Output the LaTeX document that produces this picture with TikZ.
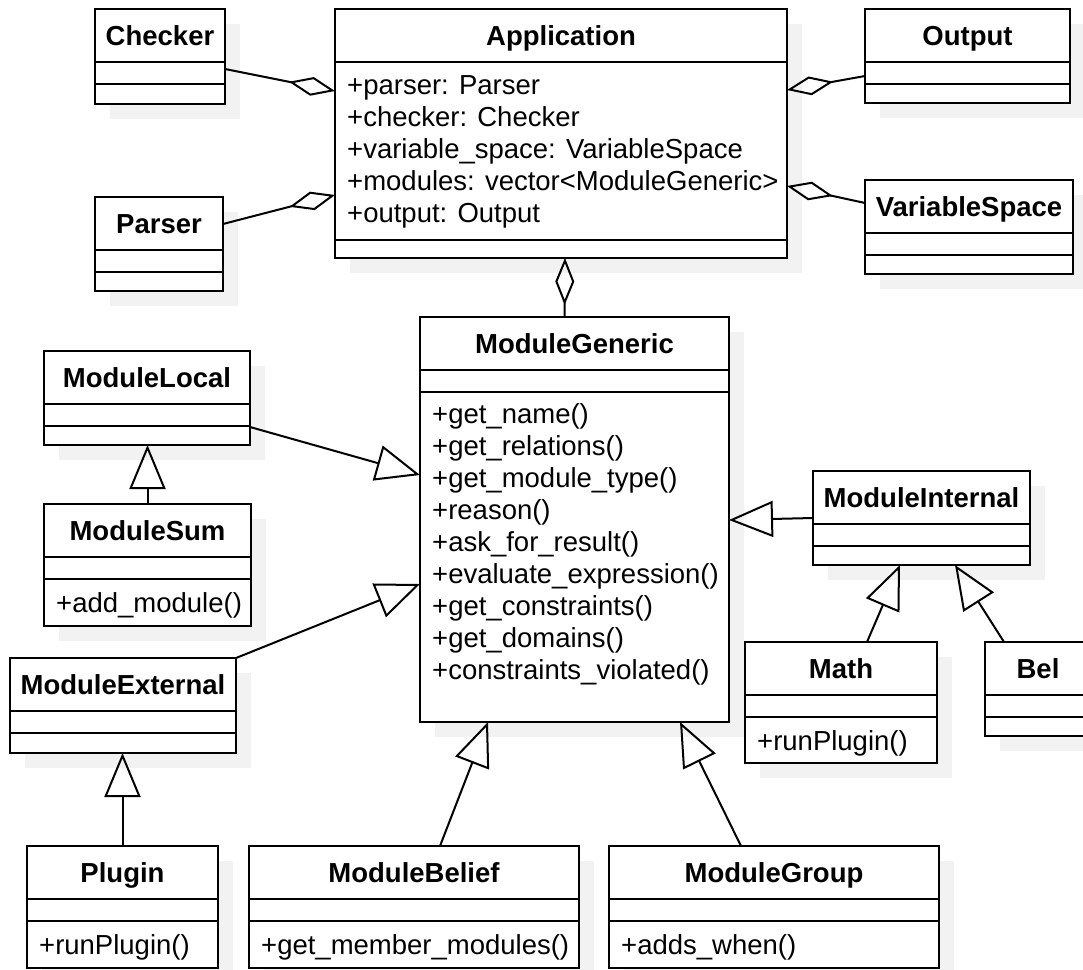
\documentclass[tikz,border=0pt]{standalone}
\usepackage{fontspec}
\setmainfont{Liberation Sans}
\usetikzlibrary{arrows.meta,calc}
\pgfdeclarelayer{bg}
\pgfsetlayers{bg,main}
\tikzset{
  clsbox/.style={draw, line width=2pt, fill=white, rectangle, inner sep=0pt, outer sep=0pt, anchor=north west},
  clstitle/.style={anchor=base, inner sep=0pt, font=\fontsize{27.5}{33}\selectfont\bfseries},
  member/.style={anchor=base west, inner sep=0pt, font=\fontsize{27.5}{33}\selectfont},
  sepline/.style={line width=2pt},
  shadowfill/.style={fill=black!5},
  aggr/.style={line width=2pt, -{Diamond[open, length=47pt, width=19pt]}},
  gen/.style={line width=2pt, -{Triangle[open, length=44pt, width=36pt]}},
}
% #1 name, #2 x, #3 y, #4 w, #5 h, #6 title, #7 offset of second separator
\newcommand\umlbox[7]{%
  \begin{pgfonlayer}{bg}\fill[shadowfill] (#2+15,#3+15) rectangle ++(#4,#5);\end{pgfonlayer}
  \node[clsbox, minimum width=#4pt, minimum height=#5pt] (#1) at (#2,#3) {};
  \node[clstitle] (#1-t) at ([yshift=-36pt]#1.north) {#6};
  \draw[sepline] ([yshift=-53pt]#1.north west) -- ([yshift=-53pt]#1.north east);
  \draw[sepline] ([yshift=-#7pt]#1.north west) -- ([yshift=-#7pt]#1.north east);
}
\begin{document}
\begin{tikzpicture}[x=1pt,y=-1pt]
\begin{pgfonlayer}{bg}
\fill[white] (0,0) rectangle (1083,969);
\end{pgfonlayer}
\useasboundingbox (0,0) rectangle (1083,969);

% classes
\umlbox{checker}{95}{9}{130}{95}{Checker}{75}
\umlbox{parser}{95}{197}{128}{94}{Parser}{75}
\umlbox{app}{335}{9}{452}{249}{Application}{231}
\umlbox{output}{865}{9}{205}{94}{Output}{75}
\umlbox{vs}{865}{180}{208}{94}{VariableSpace}{75}
\umlbox{mg}{420}{317}{309}{405}{ModuleGeneric}{75}
\umlbox{ml}{44}{351}{206}{94}{ModuleLocal}{75}
\umlbox{ms}{44}{504}{207}{122}{ModuleSum}{75}
\umlbox{me}{10}{658}{226}{95}{ModuleExternal}{75}
\umlbox{mi}{813}{471}{217}{94}{ModuleInternal}{75}
\umlbox{math}{745}{642}{192}{121}{Math}{75}
\umlbox{bel}{985}{642}{106}{94}{Bel}{75}
\umlbox{plugin}{27}{846}{191}{122}{Plugin}{75}
\umlbox{mb}{249}{846}{330}{122}{ModuleBelief}{75}
\umlbox{mgr}{609}{846}{330}{122}{ModuleGroup}{75}

% Application attributes
\node[member] (app-a1) at ([xshift=12pt,yshift=-85pt]app.north west) {+parser: Parser};
\node[member] (app-a2) at ([xshift=12pt,yshift=-117pt]app.north west) {+checker: Checker};
\node[member] (app-a3) at ([xshift=12pt,yshift=-149pt]app.north west) {+variable\_space: VariableSpace};
\node[member] (app-a4) at ([xshift=12pt,yshift=-181pt]app.north west) {+modules: vector\textless ModuleGeneric\textgreater};
\node[member] (app-a5) at ([xshift=12pt,yshift=-213pt]app.north west) {+output: Output};

% ModuleGeneric methods
\node[member] (mg-m1) at ([xshift=12pt,yshift=-106pt]mg.north west) {+get\_name()};
\node[member] (mg-m2) at ([xshift=12pt,yshift=-138pt]mg.north west) {+get\_relations()};
\node[member] (mg-m3) at ([xshift=12pt,yshift=-170pt]mg.north west) {+get\_module\_type()};
\node[member] (mg-m4) at ([xshift=12pt,yshift=-202pt]mg.north west) {+reason()};
\node[member] (mg-m5) at ([xshift=12pt,yshift=-234pt]mg.north west) {+ask\_for\_result()};
\node[member] (mg-m6) at ([xshift=12pt,yshift=-266pt]mg.north west) {+evaluate\_expression()};
\node[member] (mg-m7) at ([xshift=12pt,yshift=-298pt]mg.north west) {+get\_constraints()};
\node[member] (mg-m8) at ([xshift=12pt,yshift=-330pt]mg.north west) {+get\_domains()};
\node[member] (mg-m9) at ([xshift=12pt,yshift=-362pt]mg.north west) {+constraints\_violated()};

% single methods
\node[member] (ms-m1) at ([xshift=12pt,yshift=-108pt]ms.north west) {+add\_module()};
\node[member] (math-m1) at ([xshift=12pt,yshift=-108pt]math.north west) {+runPlugin()};
\node[member] (plugin-m1) at ([xshift=12pt,yshift=-108pt]plugin.north west) {+runPlugin()};
\node[member] (mb-m1) at ([xshift=12pt,yshift=-108pt]mb.north west) {+get\_member\_modules()};
\node[member] (mgr-m1) at ([xshift=12pt,yshift=-108pt]mgr.north west) {+adds\_when()};

% aggregations
\draw[aggr] ([yshift=-60pt]checker.north east) -- ([yshift=-82pt]app.north west);
\draw[aggr] ([yshift=-27pt]parser.north east) -- ([yshift=-186pt]app.north west);
\draw[aggr] ([yshift=-67pt]output.north west) -- ([yshift=-81pt]app.north east);
\draw[aggr] ([yshift=-23pt]vs.north west) -- ([yshift=-177pt]app.north east);
\draw[aggr] ([xshift=-10pt]mg.north) -- ([xshift=4pt]app.south);

% generalizations
\draw[gen] ([yshift=-76pt]ml.north east) -- ([yshift=-158pt]mg.north west);
\draw[gen] (ms.north) -- (ms.north |- ml.south);
\draw[gen] (me.north east) -- ([yshift=-267pt]mg.north west);
\draw[gen] ([yshift=-47pt]mi.north west) -- ([yshift=-203pt]mg.north east);
\draw[gen] ([xshift=122pt]math.north west) -- ([xshift=87pt]mi.south west);
\draw[gen] ([xshift=19pt]bel.north west) -- ([xshift=142pt]mi.south west);
\draw[gen] (plugin.north) -- (plugin.north |- me.south);
\draw[gen] ([xshift=191pt]mb.north west) -- ([xshift=68pt]mg.south west);
\draw[gen] ([xshift=132pt]mgr.north west) -- ([xshift=260pt]mg.south west);
\end{tikzpicture}
\end{document}
